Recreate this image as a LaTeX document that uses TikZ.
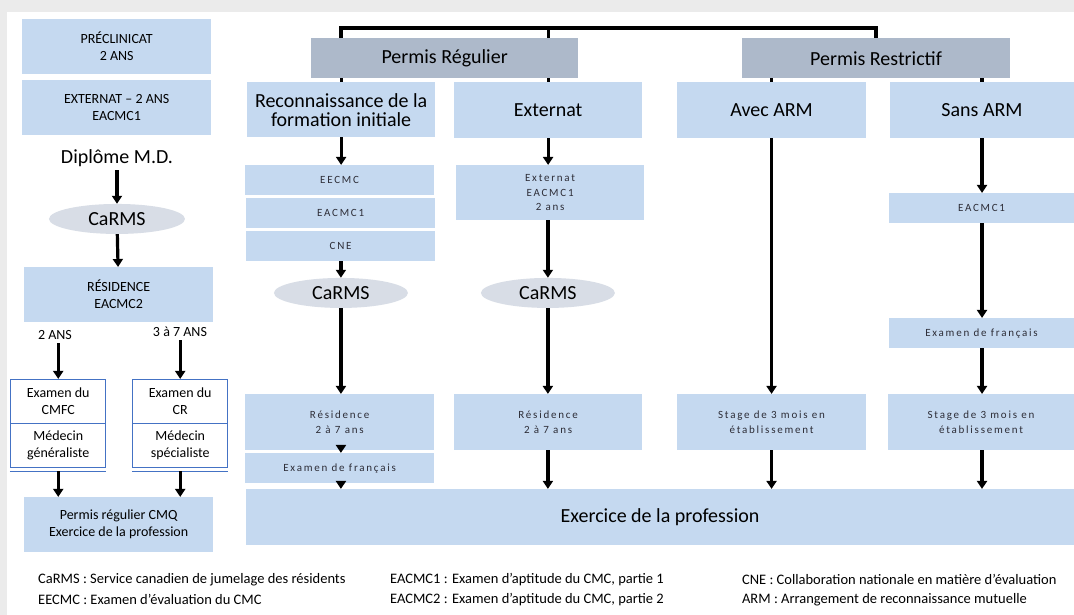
\documentclass[tikz,border=0pt]{standalone}
\usepackage{fontspec}
\setmainfont{Carlito}
\newfontfamily\spfont[LetterSpace=16]{Carlito}
\usetikzlibrary{arrows.meta,shapes.geometric}
\definecolor{boxblue}{RGB}{197,217,240}
\definecolor{hdgray}{RGB}{173,185,202}
\definecolor{elgray}{RGB}{216,221,230}
\definecolor{edgeblue}{RGB}{68,114,196}
\definecolor{bggray}{RGB}{235,235,235}
\definecolor{txtgray}{RGB}{45,45,55}

\begin{document}
\begin{tikzpicture}
    [x=1pt,y=-1pt,
     b/.style={fill=boxblue,anchor=north west,inner sep=0pt,align=center},
     big/.style={font=\fontsize{20}{19}\selectfont},
     sm/.style={font=\fontsize{14}{17}\selectfont},
     sp/.style={font=\spfont\fontsize{11}{14.5}\selectfont,text=txtgray},
     h/.style={b,fill=hdgray,big},
     e/.style={ellipse,fill=elgray,inner sep=0pt,big},
     wb/.style={fill=white,draw=edgeblue,line width=1.5pt,anchor=north west,inner sep=0pt,align=center,sm},
     lg/.style={anchor=west,inner sep=0pt,font=\fontsize{14.5}{16}\selectfont},
     ar/.style={line width=3.2pt,-{Triangle[width=10pt,length=8pt]}},
     ln/.style={line width=3.2pt}]
    \fill[bggray] (0,0) rectangle (1074,615);
    \fill[white] (7,12) rectangle (1074,615);

    % parcours au Canada
    \node[b,sm,minimum width=189pt,minimum height=55pt] (precl) at (22,19) {PRÉCLINICAT\\2 ANS};
    \node[b,sm,minimum width=189pt,minimum height=55pt] (extl) at (22,80) {EXTERNAT – 2 ANS\\EACMC1};
    \node[font=\fontsize{20}{24}\selectfont] (dipl) at (117,158) {Diplôme M.D.};
    \node[e,minimum width=136pt,minimum height=30pt] (carms) at (117,219) {CaRMS};
    \node[b,sm,minimum width=189pt,minimum height=55pt] (resl) at (24,267) {RÉSIDENCE\\EACMC2};
    \node[sm] (ans2) at (55,335) {2 ANS};
    \node[sm] (ans37) at (180,332) {3 à 7 ANS};
    \node[wb,minimum width=95pt,minimum height=44pt] (cmfc) at (10,379) {Examen du\\CMFC};
    \node[wb,minimum width=95pt,minimum height=44pt] (gen) at (10,423) {Médecin\\généraliste};
    \node[wb,minimum width=95pt,minimum height=44pt] (cr) at (132,379) {Examen du\\CR};
    \node[wb,minimum width=95pt,minimum height=44pt] (spec) at (132,423) {Médecin\\spécialiste};
    \draw[edgeblue,line width=1pt] ([yshift=-3pt]gen.south west) -- ([yshift=-3pt]gen.south east)
        ([yshift=-3pt]spec.south west) -- ([yshift=-3pt]spec.south east);
    \node[b,sm,minimum width=189pt,minimum height=55pt] (cmq) at (24,497) {Permis régulier CMQ\\Exercice de la profession};
    \draw[ar] (dipl) -- (carms);
    \draw[ar] (carms) -- (resl);
    \draw[ar] (cmfc |- ans2.south) -- (cmfc.north);
    \draw[ar] (cr |- ans37.south) -- (cr.north);
    \draw[ar] ([yshift=-3pt]gen.south) -- (gen |- cmq.north);
    \draw[ar] ([yshift=-3pt]spec.south) -- (spec |- cmq.north);

    % permis
    \node[h,minimum width=267pt,minimum height=40pt] (preg) at (311,38) {Permis Régulier};
    \node[h,minimum width=268pt,minimum height=40pt] (prest) at (742,38) {Permis Restrictif};
    \node[b,big,minimum width=188pt,minimum height=55pt] (recon) at (247,82) {Reconnaissance de la\\formation initiale};
    \node[b,big,minimum width=188pt,minimum height=56pt] (ext) at (454,82) {Externat};
    \node[b,big,minimum width=189pt,minimum height=56pt] (avec) at (677,82) {Avec ARM};
    \node[b,big,minimum width=184pt,minimum height=56pt] (sans) at (890,82) {Sans ARM};
    \coordinate (top) at (0,28);
    \draw[ln,line width=4pt] (recon |- preg.north) -- (recon |- top) -| (prest.north);
    \draw[ln] (ext |- preg.north) -- (ext |- top);
    \draw[ln] (preg.south -| recon) -- (recon.north);
    \draw[ln] (preg.south -| ext) -- (ext.north);
    \draw[ln] (prest.south -| avec) -- (avec.north);
    \draw[ln] (prest.south -| sans) -- (sans.north);

    % reconnaissance de la formation initiale
    \node[b,sp,minimum width=189pt,minimum height=30pt] (eecmc) at (245,165) {EECMC};
    \node[b,sp,minimum width=189pt,minimum height=30pt] (eacmca) at (246,198) {EACMC1};
    \node[b,sp,minimum width=189pt,minimum height=30pt] (cne) at (246,231) {CNE};
    \node[e,minimum width=134pt,minimum height=30pt] (carmsa) at (341,293) {CaRMS};
    \node[b,sp,minimum width=189pt,minimum height=56pt] (resa) at (245,394) {Résidence\\2 à 7 ans};
    \node[b,sp,minimum width=189pt,minimum height=30pt] (frana) at (245,453) {Examen de français};
    \node[b,big,minimum width=828pt,minimum height=56pt] (exer) at (246,489) {Exercice de la profession};
    \draw[ar] (recon) -- (recon |- eecmc.north);
    \draw[ar] (cne.south -| carmsa) -- (carmsa.north);
    \draw[ar] (carmsa) -- (carmsa |- resa.north);
    \draw[ar] (resa.south -| carmsa) -- (carmsa |- frana.north);
    \draw[ar] (frana.south -| carmsa) -- (carmsa |- exer.north);

    % externat
    \node[b,sp,minimum width=188pt,minimum height=55pt] (extb) at (456,165) {Externat\\EACMC1\\2 ans};
    \node[e,minimum width=134pt,minimum height=30pt] (carmsb) at (548,293) {CaRMS};
    \node[b,sp,minimum width=188pt,minimum height=56pt] (resb) at (454,394) {Résidence\\2 à 7 ans};
    \draw[ar] (ext) -- (ext |- extb.north);
    \draw[ar] (extb.south -| carmsb) -- (carmsb.north);
    \draw[ar] (carmsb) -- (carmsb |- resb.north);
    \draw[ar] (resb.south -| carmsb) -- (carmsb |- exer.north);

    % avec ARM
    \node[b,sp,minimum width=189pt,minimum height=56pt] (stagec) at (677,394) {Stage de 3 mois en\\établissement};
    \draw[ar] (avec) -- (avec |- stagec.north);
    \draw[ar] (stagec.south -| avec) -- (avec |- exer.north);

    % sans ARM
    \node[b,sp,minimum width=185pt,minimum height=30pt] (eacmcd) at (889,193) {EACMC1};
    \node[b,sp,minimum width=185pt,minimum height=30pt] (frand) at (889,318) {Examen de français};
    \node[b,sp,minimum width=186pt,minimum height=56pt] (staged) at (888,394) {Stage de 3 mois en\\établissement};
    \draw[ar] (sans) -- (sans |- eacmcd.north);
    \draw[ar] (eacmcd.south -| sans) -- (sans |- frand.north);
    \draw[ar] (frand.south -| sans) -- (sans |- staged.north);
    \draw[ar] (staged.south -| sans) -- (sans |- exer.north);

    % legende
    \node[lg] (lcarms) at (38,580) {CaRMS : Service canadien de jumelage des résidents};
    \node[lg] (leecmc) at (38,600) {EECMC : Examen d’évaluation du CMC};
    \node[lg] (leac1) at (390,580) {EACMC1 : Examen d’aptitude du CMC, partie 1};
    \node[lg] (leac2) at (390,600) {EACMC2 : Examen d’aptitude du CMC, partie 2};
    \node[lg] (lcne) at (742,580) {CNE : Collaboration nationale en matière d’évaluation};
    \node[lg] (larm) at (742,600) {ARM : Arrangement de reconnaissance mutuelle};
\end{tikzpicture}
\end{document}
